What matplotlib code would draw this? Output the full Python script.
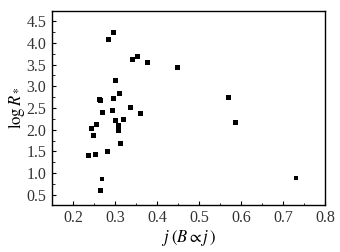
import matplotlib
matplotlib.use('Agg')
import matplotlib.pyplot as plt
from matplotlib.ticker import MultipleLocator

plt.rcParams['font.family'] = 'Liberation Serif'
plt.rcParams['mathtext.fontset'] = 'stix'

# data
j_big = [0.284, 0.294, 0.340, 0.352, 0.376, 0.448, 0.569, 0.586,
         0.301, 0.309, 0.263, 0.265, 0.296, 0.335, 0.292, 0.270,
         0.359, 0.299, 0.320, 0.255, 0.243, 0.308, 0.306, 0.248,
         0.313, 0.282, 0.253, 0.236, 0.265]
logR_big = [4.09, 4.25, 3.63, 3.70, 3.56, 3.44, 2.75, 2.18,
            3.14, 2.84, 2.71, 2.68, 2.73, 2.52, 2.45, 2.41,
            2.38, 2.22, 2.25, 2.13, 2.04, 2.11, 1.99, 1.88,
            1.70, 1.51, 1.44, 1.42, 0.61]
j_small = [0.270, 0.730]
logR_small = [0.87, 0.88]

fig = plt.figure(figsize=(3.4, 2.52), dpi=100)
ax = fig.add_axes([0.153, 0.187, 0.803, 0.769])

ax.plot(j_big, logR_big, 's', color='black', markersize=3.6, markeredgewidth=0)
ax.plot(j_small, logR_small, 's', color='black', markersize=2.3, markeredgewidth=0)

ax.set_xlim(0.15, 0.8)
ax.set_ylim(0.27, 4.73)
ax.xaxis.set_major_locator(MultipleLocator(0.1))
ax.xaxis.set_minor_locator(MultipleLocator(0.05))
ax.yaxis.set_major_locator(MultipleLocator(0.5))
ax.yaxis.set_minor_locator(MultipleLocator(0.25))
ax.tick_params(which='both', direction='in', top=False, right=False, labelsize=11.5,
               labelcolor='#333333')
ax.tick_params(which='major', length=3, width=0.8, pad=4)
ax.tick_params(which='minor', length=1.8, width=0.6)
for s in ax.spines.values():
    s.set_linewidth(1.0)

ax.set_xlabel(r'$j\;(B \propto j\,)$', fontsize=12, labelpad=1)
ax.set_ylabel(r'$\log R_*$', fontsize=12, labelpad=0)

fig.savefig('out.png', dpi=100)
